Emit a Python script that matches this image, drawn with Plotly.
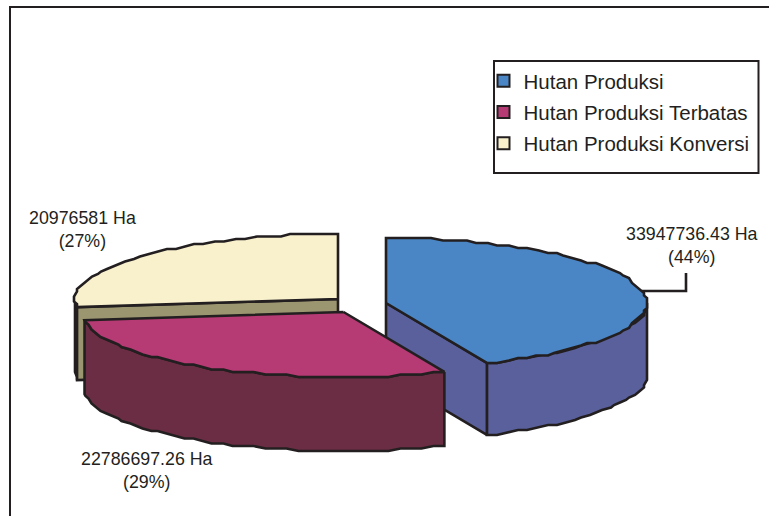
import math
import plotly.graph_objects as go

# ---- data ----
categories = ["Hutan Produksi", "Hutan Produksi Terbatas", "Hutan Produksi Konversi"]
values_ha = [33947736.43, 22786697.26, 20976581]
value_labels = ["33947736.43 Ha", "22786697.26 Ha", "20976581 Ha"]
percent_labels = ["(44%)", "(29%)", "(27%)"]

# ---- styling / projection of the extruded pie ----
W, H = 769, 516
INK = "#231f20"
TOP = ["#4a86c5", "#b63a73", "#f9f1cc"]
WALL = ["#5a609b", "#6a2d43", "#3a3426"]
CUT = ["#5a609b", "#6a2d43", "#9c9670"]
APEX = [(386, 303), (343.5, 312), (338, 299)]
RX = [261, 261, 263]
RY = 65
DEPTH = [72, 74, 73]
GRID_X, GRID_Y = 3, 2.5
STEP_DEG = 2.5
LW = 2.6

total = sum(values_ha)
spans = [v / total * 360 for v in values_ha]
starts = [0, spans[0], spans[0] + spans[1]]
ends = [spans[0], spans[0] + spans[1], 360]


def arc(i, a0, a1, dy=0):
    """Jagged (low resolution) elliptical arc, from angles clockwise from 12 o'clock."""
    cx, cy = APEX[i]
    n = max(2, int(abs(a1 - a0) / STEP_DEG))
    pts = []
    for k in range(n + 1):
        t = math.radians(a0 + (a1 - a0) * k / n)
        x = RX[i] * math.sin(t)
        y = RY * -math.cos(t)
        if 0 < k < n:
            x, y = round(x / GRID_X) * GRID_X, round(y / GRID_Y) * GRID_Y
        p = (cx + x, cy + y + dy)
        if not pts or pts[-1] != p:
            pts.append(p)
    return pts


def poly(pts, fill):
    xs = [p[0] for p in pts] + [pts[0][0]]
    ys = [p[1] for p in pts] + [pts[0][1]]
    return go.Scatter(x=xs, y=ys, mode="lines", fill="toself", fillcolor=fill,
                      line=dict(color=INK, width=LW), hoverinfo="skip", showlegend=False)


def point(i, a, dy=0):
    t = math.radians(a)
    return (APEX[i][0] + RX[i] * math.sin(t), APEX[i][1] - RY * math.cos(t) + dy)


fig = go.Figure()
for i in [2, 0, 1]:  # back to front
    a0, a1, d = starts[i], ends[i], DEPTH[i]
    # outer wall: only the part of the rim that faces the viewer
    w0, w1 = max(a0, 90), min(a1, 270)
    if w1 > w0:
        fig.add_trace(poly(arc(i, w0, w1) + arc(i, w1, w0, d), WALL[i]))
    # cut faces seen from the front
    apex = APEX[i]
    if i == 0:
        end = point(i, a1)
        fig.add_trace(poly([apex, end, (end[0], end[1] + d), (apex[0], apex[1] + d)], CUT[i]))
    if i == 2:
        end = point(i, a0)
        fig.add_trace(poly([apex, end, (end[0], end[1] + d), (apex[0], apex[1] + d)], CUT[i]))
    # top face
    fig.add_trace(poly([apex] + arc(i, a0, a1), TOP[i]))

# legend entries
for name, col in zip(categories, TOP):
    fig.add_trace(go.Scatter(x=[None], y=[None], mode="markers", name=name, legendgroup=name,
                             marker=dict(symbol="square", size=11, color=col,
                                         line=dict(color=INK, width=1.5))))

# leader line of the blue slice
fig.add_trace(go.Scatter(x=[642, 686, 686], y=[291, 291, 273], mode="lines",
                         line=dict(color=INK, width=LW), hoverinfo="skip", showlegend=False))

label_pos = [(692, 245), (147, 470), (82, 229)]
annotations = [dict(x=x, y=y, xref="x", yref="y", text=f"{v}<br>{p}", showarrow=False,
                    xanchor="center", yanchor="middle", align="center",
                    font=dict(family="Liberation Sans", size=17.8, color=INK))
               for (x, y), v, p in zip(label_pos, value_labels, percent_labels)]

shapes = [
    # the frame is cut off by the image at right and bottom: only two sides show
    dict(type="path", xref="x", yref="y", path="M 769 7 L 10 7 L 10 516",
         line=dict(color=INK, width=2), layer="below"),
    dict(type="rect", xref="x", yref="y", x0=494, y0=61, x1=758.5, y1=173,
         line=dict(color=INK, width=2), layer="below"),
]

fig.update_layout(
    width=W, height=H, margin=dict(l=0, r=0, t=0, b=0),
    paper_bgcolor="white", plot_bgcolor="white",
    xaxis=dict(range=[0, W], visible=False, fixedrange=True),
    yaxis=dict(range=[H, 0], visible=False, fixedrange=True),
    showlegend=True,
    legend=dict(x=483.5 / W, y=1 - 61 / H, xanchor="left", yanchor="top",
                bgcolor="rgba(0,0,0,0)", borderwidth=0, tracegroupgap=1.5,
                itemsizing="constant",
                font=dict(family="Liberation Sans", size=20.5, color=INK)),
    annotations=annotations, shapes=shapes,
)
fig.write_html("out.html", config={"displayModeBar": False},
               post_script="document.body.style.margin='0';document.body.style.overflow='hidden';")
